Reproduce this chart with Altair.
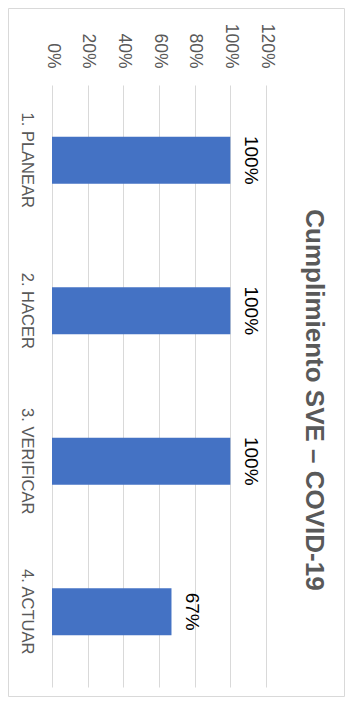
import altair as alt
import pandas as pd

categories = ["1. PLANEAR", "2. HACER", "3. VERIFICAR", "4. ACTUAR"]
values = [1.0, 1.0, 1.0, 0.67]
tick_values = [0, 0.2, 0.4, 0.6, 0.8, 1.0, 1.2]
title_text = "Cumplimiento SVE – COVID-19"

df = pd.DataFrame({"cat": categories, "val": values})

W, H = 214, 602
FONT = "Liberation Sans"

y_enc = alt.Y(
    "cat:N", sort=categories,
    scale=alt.Scale(paddingInner=0.688, paddingOuter=0.344),
    axis=alt.Axis(title=None, orient="left", labelAngle=90, labelAlign="center",
                  labelBaseline="top", labelPadding=18, ticks=False, tickSize=0,
                  domain=False, grid=False, labelFont=FONT, labelFontSize=16.5,
                  labelColor="#595959"))
x_enc = alt.X(
    "val:Q", scale=alt.Scale(domain=[0, 1.2], nice=False),
    axis=alt.Axis(title=None, orient="top", values=tick_values, format=".0%",
                  labelAngle=90, labelAlign="right", labelBaseline="middle",
                  labelPadding=17, ticks=False, tickSize=0, domain=False,
                  grid=True, gridColor="#d9d9d9", gridWidth=1,
                  labelFont=FONT, labelFontSize=17.5, labelColor="#595959",
                  labelOverlap=False, labelBound=False, labelFlush=False))

frame = alt.Chart(pd.DataFrame({"f": [0]})).mark_rect(
    fillOpacity=0, stroke="#d9d9d9", strokeWidth=1
).encode(x=alt.value(-43.5), x2=alt.value(292.5), y=alt.value(-76.5), y2=alt.value(611.5))

bars = alt.Chart(df).mark_bar(color="#4472c4").encode(x=x_enc, y=y_enc)

labels = alt.Chart(df).mark_text(
    angle=90, align="center", baseline="alphabetic", dy=-15,
    font=FONT, fontSize=19, color="#000000"
).encode(
    x=x_enc,
    y=y_enc,
    text=alt.Text("val:Q", format=".0%"),
)

chart = alt.layer(frame, bars, labels).properties(
    width=W, height=H,
    title=alt.TitleParams(text=title_text, orient="right", angle=90, anchor="middle",
                          frame="group", offset=-65, dx=14, baseline="alphabetic",
                          font=FONT, fontSize=26, fontWeight="bold", color="#595959"),
    padding={"left": 44, "top": 77, "right": 79, "bottom": 10},
    autosize=alt.AutoSizeParams(type="none"),
).configure_view(strokeWidth=0)

chart.save("out.html", embed_options={"renderer": "svg", "actions": False})
